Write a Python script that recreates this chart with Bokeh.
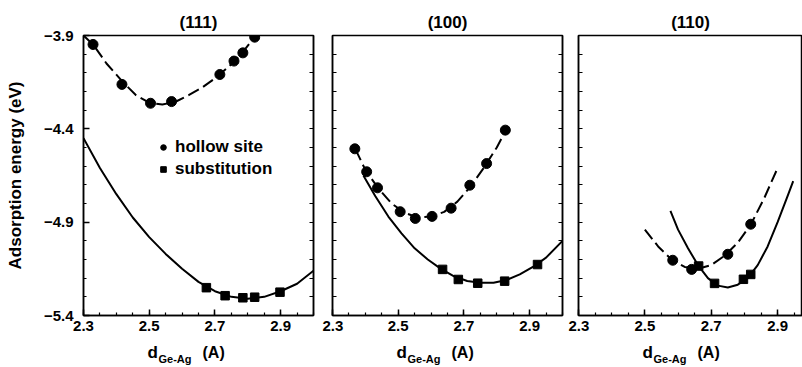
from bokeh.plotting import figure
from bokeh.layouts import row, column
from bokeh.models import Range1d, LinearAxis, FixedTicker, Legend, LegendItem
from bokeh.core.properties import value
from bokeh.embed import file_html
from bokeh.resources import INLINE

FONT = "Liberation Sans"

# ---------------- data ----------------
panel_titles = ["(111)", "(100)", "(110)"]
x_tick_labels = [2.3, 2.5, 2.7, 2.9]
y_tick_labels = [-5.4, -4.9, -4.4, -3.9]

# (111)
hollow111_x = [2.329, 2.417, 2.504, 2.568, 2.715, 2.758, 2.785, 2.821]
hollow111_y = [-3.948, -4.162, -4.263, -4.254, -4.109, -4.037, -3.993, -3.909]
subst111_x = [2.674, 2.731, 2.785, 2.821, 2.898]
subst111_y = [-5.251, -5.294, -5.305, -5.302, -5.275]
fit_hollow111_x = [2.30, 2.33, 2.37, 2.42, 2.46, 2.50, 2.54, 2.58, 2.62, 2.66, 2.70, 2.74, 2.78, 2.82, 2.825]
fit_hollow111_y = [-3.90, -3.95, -4.05, -4.15, -4.22, -4.26, -4.27, -4.255, -4.22, -4.18, -4.13, -4.07, -4.00, -3.91, -3.90]
fit_subst111_x = [2.30, 2.35, 2.40, 2.45, 2.50, 2.55, 2.60, 2.65, 2.70, 2.75, 2.80, 2.85, 2.90, 2.95, 3.00]
fit_subst111_y = [-4.45, -4.61, -4.75, -4.875, -4.98, -5.07, -5.15, -5.22, -5.27, -5.30, -5.31, -5.30, -5.27, -5.23, -5.16]

# (100)
hollow100_x = [2.368, 2.404, 2.437, 2.506, 2.552, 2.603, 2.661, 2.718, 2.769, 2.826]
hollow100_y = [-4.507, -4.630, -4.716, -4.844, -4.880, -4.869, -4.825, -4.702, -4.586, -4.407]
subst100_x = [2.635, 2.683, 2.742, 2.824, 2.924]
subst100_y = [-5.153, -5.207, -5.227, -5.216, -5.127]
fit_hollow100_x = [2.37, 2.40, 2.44, 2.48, 2.52, 2.56, 2.60, 2.64, 2.68, 2.72, 2.76, 2.80, 2.83]
fit_hollow100_y = [-4.51, -4.62, -4.72, -4.80, -4.85, -4.875, -4.87, -4.845, -4.79, -4.71, -4.61, -4.50, -4.40]
fit_subst100_x = [2.394, 2.43, 2.47, 2.51, 2.55, 2.59, 2.63, 2.67, 2.71, 2.75, 2.79, 2.83, 2.87, 2.91, 2.95, 3.00]
fit_subst100_y = [-4.65, -4.76, -4.87, -4.96, -5.04, -5.10, -5.15, -5.19, -5.215, -5.225, -5.225, -5.21, -5.18, -5.14, -5.09, -5.00]

# (110)
hollow110_x = [2.584, 2.641, 2.750, 2.819]
hollow110_y = [-5.104, -5.153, -5.072, -4.911]
subst110_x = [2.662, 2.710, 2.797, 2.819]
subst110_y = [-5.135, -5.228, -5.206, -5.180]
fit_hollow110_x = [2.50, 2.54, 2.58, 2.62, 2.66, 2.70, 2.74, 2.78, 2.82, 2.86, 2.90]
fit_hollow110_y = [-4.94, -5.03, -5.10, -5.14, -5.15, -5.13, -5.08, -5.01, -4.91, -4.77, -4.61]
fit_subst110_x = [2.577, 2.60, 2.63, 2.66, 2.69, 2.72, 2.75, 2.78, 2.81, 2.84, 2.87, 2.90, 2.93, 2.947]
fit_subst110_y = [-4.84, -4.94, -5.04, -5.13, -5.20, -5.24, -5.25, -5.235, -5.20, -5.13, -5.03, -4.90, -4.76, -4.68]

legend_labels = ["hollow site", "substitution"]
y_axis_label = "Adsorption energy (eV)"
x_label_main = "d"
x_label_sub = "Ge-Ag"
x_label_unit = "(A)"

panels = [
    (hollow111_x, hollow111_y, subst111_x, subst111_y, fit_hollow111_x, fit_hollow111_y, fit_subst111_x, fit_subst111_y),
    (hollow100_x, hollow100_y, subst100_x, subst100_y, fit_hollow100_x, fit_hollow100_y, fit_subst100_x, fit_subst100_y),
    (hollow110_x, hollow110_y, subst110_x, subst110_y, fit_hollow110_x, fit_hollow110_y, fit_subst110_x, fit_subst110_y),
]

# ---------------- layout ----------------
left_b = [83, 10, 10]
frame_w = [230, 230, 224]
right_b = [9, 6, 0]
x_max = [3.0, 3.0, 2.975]
TOP = 35
FRAME_H = 280
BOTTOM = 24
H = TOP + FRAME_H + BOTTOM
STRIP_H = 27

x_minor = [round(2.3 + 0.05 * i, 3) for i in range(15)]
y_minor = [round(-5.4 + 0.1 * i, 3) for i in range(16)]


def style_axis(ax):
    ax.axis_line_color = "black"
    ax.axis_line_width = 1.5
    ax.major_tick_in = 6
    ax.major_tick_out = 0
    ax.minor_tick_in = 3
    ax.minor_tick_out = 0
    ax.major_tick_line_width = 1.5
    ax.minor_tick_line_width = 1.2
    ax.major_tick_line_color = "black"
    ax.minor_tick_line_color = "black"
    ax.major_label_text_font = FONT
    ax.major_label_text_font_style = "bold"
    ax.major_label_text_color = "black"
    ax.major_label_text_font_size = "15px"


def plain_y_axis(ax):
    # ticks only, no labels (all tick marks equal)
    ax.ticker = FixedTicker(ticks=[], minor_ticks=y_minor)
    ax.axis_line_color = "black"
    ax.axis_line_width = 1.5
    ax.minor_tick_in = 4
    ax.minor_tick_out = 0
    ax.minor_tick_line_width = 1.2
    ax.minor_tick_line_color = "black"
    ax.major_label_standoff = 0


figs = []
frame_lefts = []
x0 = 0
for i in range(3):
    hx, hy, sx, sy, fhx, fhy, fsx, fsy = panels[i]
    W = left_b[i] + frame_w[i] + right_b[i]
    frame_lefts.append(x0 + left_b[i])
    x0 += W
    p = figure(width=W, height=H,
               x_range=Range1d(2.3, x_max[i]), y_range=Range1d(-5.4, -3.9),
               output_backend="svg", toolbar_location=None,
               min_border_left=left_b[i], min_border_right=right_b[i],
               min_border_top=TOP, min_border_bottom=BOTTOM,
               title=panel_titles[i])
    p.title.align = "center"
    p.title.text_font = FONT
    p.title.text_font_size = "17px"
    p.title.text_font_style = "bold"
    p.title.text_color = "black"
    p.title.standoff = 8
    p.grid.visible = False
    p.outline_line_color = "black"
    p.outline_line_width = 1.5
    p.background_fill_color = "white"
    p.border_fill_color = "white"

    p.xaxis.ticker = FixedTicker(ticks=x_tick_labels, minor_ticks=x_minor)
    style_axis(p.xaxis[0])
    p.xaxis.major_label_standoff = 5
    if i == 0:
        p.yaxis.ticker = FixedTicker(ticks=y_tick_labels, minor_ticks=y_minor)
        style_axis(p.yaxis[0])
        p.yaxis.major_label_standoff = 10
        p.yaxis.axis_label = y_axis_label
        p.yaxis.axis_label_text_font = FONT
        p.yaxis.axis_label_text_font_size = "17px"
        p.yaxis.axis_label_text_font_style = "bold"
        p.yaxis.axis_label_text_color = "black"
        p.yaxis.axis_label_standoff = 16
    else:
        plain_y_axis(p.yaxis[0])
    if i < 2:
        rax = LinearAxis()
        plain_y_axis(rax)
        p.add_layout(rax, "right")

    p.line(fhx, fhy, line_color="black", line_width=2, line_dash="12 5")
    p.line(fsx, fsy, line_color="black", line_width=2)
    c = p.scatter(hx, hy, marker="circle", size=10, fill_color="black", line_color="black")
    s = p.scatter(sx, sy, marker="square", size=8.5, fill_color="black", line_color="black")

    if i == 0:
        leg = Legend(items=[LegendItem(label=legend_labels[0], renderers=[c]),
                            LegendItem(label=legend_labels[1], renderers=[s])],
                     location=(73, 136))
        leg.border_line_color = None
        leg.background_fill_alpha = 0
        leg.padding = 0
        leg.margin = 0
        leg.spacing = 2
        leg.glyph_width = 14
        leg.glyph_height = 20
        leg.label_height = 20
        leg.label_standoff = 5
        leg.label_text_font = FONT
        leg.label_text_font_size = "17px"
        leg.label_text_font_style = "bold"
        leg.label_text_color = "black"
        p.add_layout(leg)
    figs.append(p)

# ---------------- x axis label strip: d_{Ge-Ag} (A) ----------------
total_w = x0
strip = figure(width=total_w, height=STRIP_H, x_range=Range1d(0, total_w), y_range=Range1d(0, STRIP_H),
               output_backend="svg", toolbar_location=None, x_axis_type=None, y_axis_type=None,
               min_border=0)
strip.grid.visible = False
strip.outline_line_color = None
strip.border_fill_color = "white"
main_x = [fl + 64 for fl in frame_lefts]
sub_x = [fl + 75 for fl in frame_lefts]
unit_x = [fl + 119 for fl in frame_lefts]
strip.text(main_x, [STRIP_H - 13] * 3, text=[x_label_main] * 3, text_font=value(FONT),
           text_font_size="17px", text_font_style="bold", text_baseline="alphabetic", text_color="black")
strip.text(sub_x, [STRIP_H - 19] * 3, text=[x_label_sub] * 3, text_font=value(FONT),
           text_font_size="11px", text_font_style="bold", text_baseline="alphabetic", text_color="black")
strip.text(unit_x, [STRIP_H - 13] * 3, text=[x_label_unit] * 3, text_font=value(FONT),
           text_font_size="16px", text_font_style="bold", text_baseline="alphabetic", text_color="black")

layout = column(row(*figs), strip)
open("out.html", "w").write(file_html(layout, INLINE))
